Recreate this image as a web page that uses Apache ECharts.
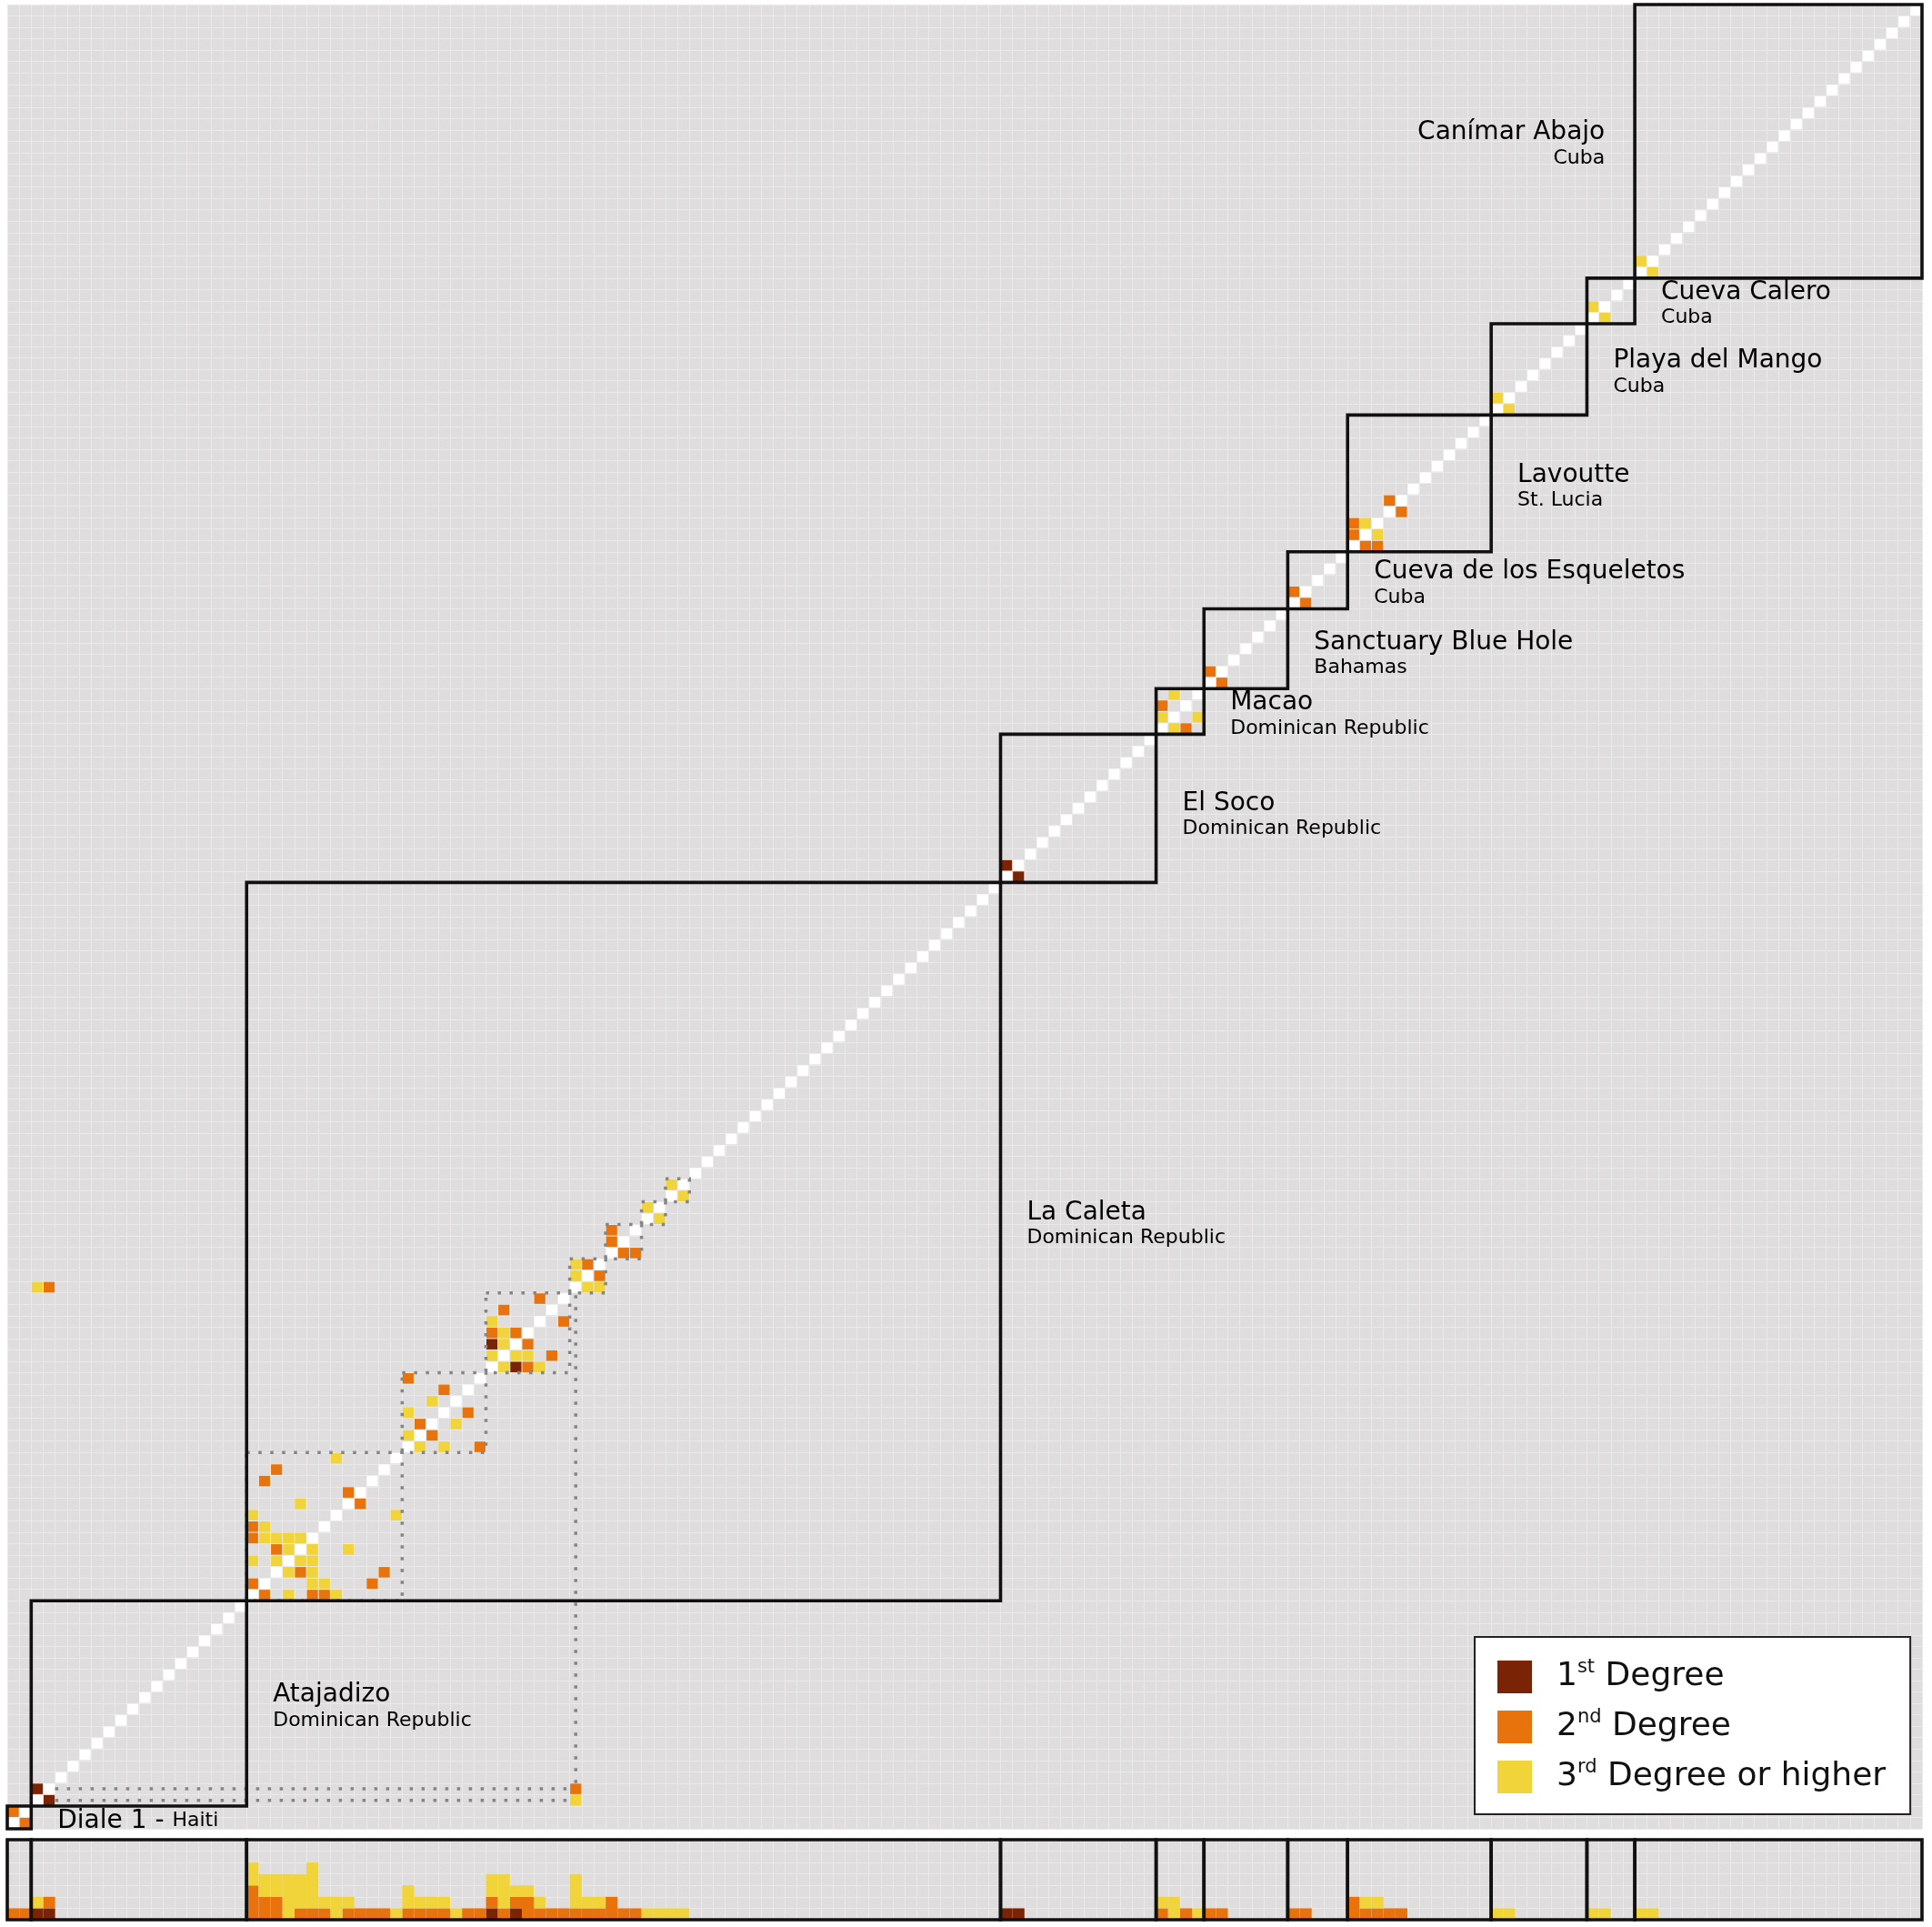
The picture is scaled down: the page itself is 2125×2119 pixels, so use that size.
<!DOCTYPE html>
<html>
<head>
<meta charset="utf-8">
<title>Relatedness matrix</title>
<script src="https://cdn.jsdelivr.net/npm/echarts@6/dist/echarts.min.js"></script>
<style>
  html, body { margin: 0; padding: 0; background: #fff; }
  #chart { width: 2125px; height: 2119px; }
</style>
</head>
<body>
<div id="chart"></div>
<script>
// sites, in matrix order (bottom-left to top-right)
var siteNames = ['Diale 1', 'Atajadizo', 'La Caleta', 'El Soco', 'Macao', 'Sanctuary Blue Hole',
  'Cueva de los Esqueletos', 'Lavoutte', 'Playa del Mango', 'Cueva Calero', 'Canímar Abajo'];
var siteCountries = ['Haiti', 'Dominican Republic', 'Dominican Republic', 'Dominican Republic',
  'Dominican Republic', 'Bahamas', 'Cuba', 'St. Lucia', 'Cuba', 'Cuba', 'Cuba'];
var siteSizes = [2, 18, 63, 13, 4, 7, 5, 12, 8, 4, 24];

// related pairs [individual a, individual b], one list per degree (mirrored when drawn)
var firstDegree = [[2, 3], [40, 42], [83, 84]];
var secondDegree = [[0, 1], [3, 47], [20, 21], [20, 25], [20, 26], [21, 30], [22, 24], [22, 31],
  [28, 29], [33, 39], [34, 35], [36, 38], [40, 43], [41, 45], [42, 43], [44, 46], [48, 49],
  [50, 51], [50, 52], [96, 98], [100, 101], [107, 108], [112, 113], [112, 114], [115, 116]];
var thirdDegree = [[2, 47], [20, 23], [20, 27], [21, 25], [21, 26], [22, 23], [22, 25], [23, 24],
  [23, 25], [24, 25], [24, 28], [27, 32], [33, 34], [33, 36], [35, 37], [40, 41], [40, 44],
  [41, 42], [41, 43], [47, 48], [47, 49], [53, 54], [55, 56], [96, 97], [97, 99], [113, 114],
  [124, 125], [132, 133], [136, 137]];

// family groups inside La Caleta: [first individual, last individual + 1]
var families = [[20, 33], [33, 40], [40, 47], [47, 50], [50, 53], [53, 55], [55, 57]];
// dotted links between related individuals: [x0, y0, x1, y1] in individual units
var familyLinks = [[47.5, 4, 47.5, 47], [4, 2.5, 47, 2.5], [4, 3.5, 47, 3.5]];

var degreeNames = ['1st Degree', '2nd Degree', '3rd Degree or higher'];
var degreeColors = ['#7b2305', '#e8730c', '#f0d43a'];
var cellColors = ['#ffffff'].concat(degreeColors);
var FONT = 'DejaVu Sans';

var nTotal = 0;
var siteStarts = [];
siteSizes.forEach(function (n) { siteStarts.push(nTotal); nTotal += n; });

var cellData = [];
var counts = [[], [], []];
for (var i = 0; i < nTotal; i++) {
  cellData.push([i, i, 0]);
  counts[0].push(0); counts[1].push(0); counts[2].push(0);
}
[firstDegree, secondDegree, thirdDegree].forEach(function (list, d) {
  list.forEach(function (p) {
    cellData.push([p[0], p[1], d + 1]);
    cellData.push([p[1], p[0], d + 1]);
    counts[d][p[0]]++;
    counts[d][p[1]]++;
  });
});

var siteBoxes = siteSizes.map(function (n, k) { return [siteStarts[k], siteStarts[k] + n, k]; });
var indexLabels = [];
for (var i = 0; i < nTotal; i++) indexLabels.push(String(i));

// label placement tweaks (layout only)
var labelNudge = { 2: 1.8, 3: -0.3, 5: -0.2 };

var rich = {
  t: { fontFamily: FONT, fontSize: 28, lineHeight: 30, color: '#1a1a1a' },
  s: { fontFamily: FONT, fontSize: 22, lineHeight: 26, color: '#1a1a1a' }
};

function rectBetween(api, x0, y0, x1, y1) {
  var a = api.coord([x0, y1]);
  var b = api.coord([x1, y0]);
  return { x: a[0], y: a[1], width: b[0] - a[0], height: b[1] - a[1] };
}

var myChart = echarts.init(document.getElementById('chart'));

var option = {
  animation: false,
  backgroundColor: '#ffffff',
  grid: [
    { left: 8, top: 5, width: 2106, height: 2006, show: true, backgroundColor: '#dfdddd', borderWidth: 0 },
    { left: 8, top: 2023, width: 2106, height: 88, show: true, backgroundColor: '#dfdddd', borderWidth: 0 }
  ],
  xAxis: [
    {
      gridIndex: 0, type: 'value', min: 0, max: nTotal, interval: 1,
      axisLine: { show: false }, axisTick: { show: false }, axisLabel: { show: false },
      splitLine: { show: true, lineStyle: { color: '#ebeaea', width: 1 } }
    },
    {
      gridIndex: 1, type: 'category', data: indexLabels, boundaryGap: true,
      axisLine: { show: false }, axisTick: { show: false }, axisLabel: { show: false, interval: 0 },
      splitLine: { show: true, interval: 0, lineStyle: { color: '#ebeaea', width: 1 } }
    }
  ],
  yAxis: [
    {
      gridIndex: 0, type: 'value', min: 0, max: nTotal, interval: 1,
      axisLine: { show: false }, axisTick: { show: false }, axisLabel: { show: false },
      splitLine: { show: true, lineStyle: { color: '#ebeaea', width: 1 } }
    },
    {
      gridIndex: 1, type: 'value', min: 0, max: 7, interval: 1,
      axisLine: { show: false }, axisTick: { show: false }, axisLabel: { show: false },
      splitLine: { show: true, lineStyle: { color: '#ebeaea', width: 1 } }
    }
  ],
  legend: {
    orient: 'vertical',
    left: 1622, top: 1800,
    padding: [23, 27, 23, 25],
    itemWidth: 38, itemHeight: 36, itemGap: 16,
    icon: 'rect',
    backgroundColor: '#ffffff',
    borderColor: '#222222', borderWidth: 2,
    selectedMode: false,
    data: degreeNames,
    formatter: function (name) {
      var sup = { '1st Degree': ['1', 'st', ' Degree'], '2nd Degree': ['2', 'nd', ' Degree'],
        '3rd Degree or higher': ['3', 'rd', ' Degree or higher'] }[name];
      return '{n|' + sup[0] + '}{sup|' + sup[1] + '}{n|' + sup[2] + '}';
    },
    textStyle: {
      padding: [0, 0, 0, 22],
      rich: {
        n: { fontFamily: FONT, fontSize: 36, lineHeight: 42, color: '#111111' },
        sup: { fontFamily: FONT, fontSize: 21, lineHeight: 42, color: '#111111', verticalAlign: 'top', padding: [0, 0, 16, 0] }
      }
    }
  },
  series: [
    {
      type: 'custom', name: 'cells', xAxisIndex: 0, yAxisIndex: 0, z: 2,
      data: cellData,
      renderItem: function (params, api) {
        var r = rectBetween(api, api.value(0), api.value(1), api.value(0) + 1, api.value(1) + 1);
        return { type: 'rect', shape: { x: r.x + 0.5, y: r.y + 0.5, width: r.width - 1, height: r.height - 1 },
          style: { fill: cellColors[api.value(2)] } };
      }
    },
    {
      type: 'custom', name: 'families', xAxisIndex: 0, yAxisIndex: 0, z: 3,
      data: families,
      renderItem: function (params, api) {
        var r = rectBetween(api, api.value(0), api.value(0), api.value(1), api.value(1));
        return { type: 'rect', shape: r,
          style: { fill: null, stroke: '#858585', lineWidth: 3.5, lineDash: [3.5, 9.5] } };
      }
    },
    {
      type: 'custom', name: 'links', xAxisIndex: 0, yAxisIndex: 0, z: 3,
      data: familyLinks,
      renderItem: function (params, api) {
        var a = api.coord([api.value(0), api.value(1)]);
        var b = api.coord([api.value(2), api.value(3)]);
        return { type: 'line', shape: { x1: a[0], y1: a[1], x2: b[0], y2: b[1] },
          style: { stroke: '#858585', lineWidth: 3.5, lineDash: [3.5, 9.5] } };
      }
    },
    {
      type: 'custom', name: 'sites', xAxisIndex: 0, yAxisIndex: 0, z: 4,
      data: siteBoxes,
      renderItem: function (params, api) {
        var r = rectBetween(api, api.value(0), api.value(0), api.value(1), api.value(1));
        return { type: 'rect', shape: r, style: { fill: null, stroke: '#111111', lineWidth: 3.6 } };
      }
    },
    {
      type: 'custom', name: 'siteLabels', xAxisIndex: 0, yAxisIndex: 0, z: 5,
      data: siteBoxes,
      renderItem: function (params, api) {
        var s = api.value(0), e = api.value(1), k = api.value(2);
        var last = k === siteNames.length - 1;
        var yVal = (s + e) / 2 - 0.3 + (labelNudge[k] || 0);
        var xVal = last ? s - 2.5 : e + 2.2;
        var p = api.coord([xVal, yVal]);
        var txt = k === 0
          ? '{t|' + siteNames[k] + ' - }{s|' + siteCountries[k] + '}'
          : '{t|' + siteNames[k] + '}\n{s|' + siteCountries[k] + '}';
        return { type: 'text', x: p[0], y: p[1],
          style: { text: txt, rich: rich, align: last ? 'right' : 'left', verticalAlign: 'middle' } };
      }
    },
    {
      type: 'bar', name: degreeNames[0], xAxisIndex: 1, yAxisIndex: 1, stack: 'deg',
      barWidth: '100%', barCategoryGap: '0%', z: 2,
      itemStyle: { color: degreeColors[0] }, data: counts[0]
    },
    {
      type: 'bar', name: degreeNames[1], xAxisIndex: 1, yAxisIndex: 1, stack: 'deg',
      barWidth: '100%', barCategoryGap: '0%', z: 2,
      itemStyle: { color: degreeColors[1] }, data: counts[1]
    },
    {
      type: 'bar', name: degreeNames[2], xAxisIndex: 1, yAxisIndex: 1, stack: 'deg',
      barWidth: '100%', barCategoryGap: '0%', z: 2,
      itemStyle: { color: degreeColors[2] }, data: counts[2]
    },
    {
      type: 'custom', name: 'stripBoxes', xAxisIndex: 1, yAxisIndex: 1, z: 4,
      data: siteBoxes,
      renderItem: function (params, api) {
        var bw = api.size([1, 0])[0];
        var a = api.coord([api.value(0), 7]);
        var b = api.coord([api.value(1) - 1, 0]);
        var x0 = a[0] - bw / 2, x1 = b[0] + bw / 2;
        return { type: 'rect', shape: { x: x0, y: a[1], width: x1 - x0, height: b[1] - a[1] },
          style: { fill: null, stroke: '#111111', lineWidth: 3.6 } };
      }
    }
  ]
};

myChart.setOption(option);
</script>
</body>
</html>
